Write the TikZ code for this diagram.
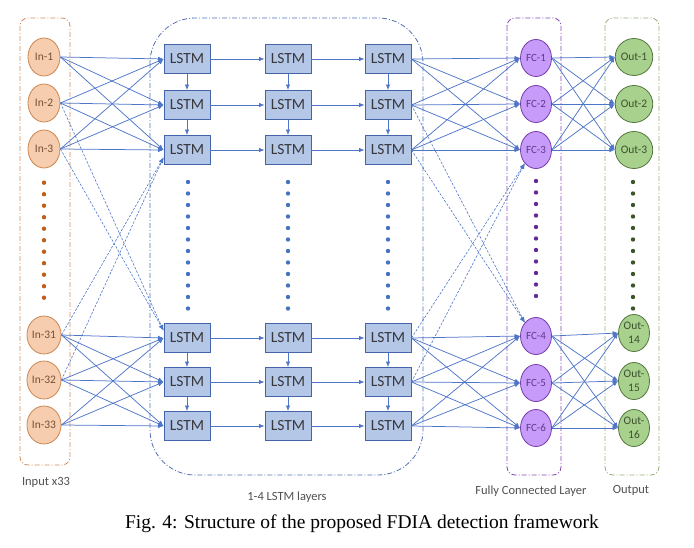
\documentclass[tikz,border=0pt]{standalone}
\usepackage{fontspec}
\setmainfont{Liberation Serif}
\newfontfamily\calfont{Carlito}
\usetikzlibrary{arrows.meta,shapes.geometric,calc}
\definecolor{inF}{RGB}{246,205,175}
\definecolor{inB}{RGB}{205,135,80}
\definecolor{inT}{RGB}{120,80,55}
\definecolor{lsF}{RGB}{180,199,231}
\definecolor{lsB}{RGB}{68,100,170}
\definecolor{lsT}{RGB}{55,55,60}
\definecolor{fcF}{RGB}{198,155,250}
\definecolor{fcB}{RGB}{120,60,170}
\definecolor{fcT}{RGB}{100,55,140}
\definecolor{ouF}{RGB}{169,209,142}
\definecolor{ouB}{RGB}{84,120,60}
\definecolor{ouT}{RGB}{60,80,45}
\definecolor{arrC}{RGB}{78,118,200}
\definecolor{dotO}{RGB}{190,95,30}
\definecolor{dotB}{RGB}{68,114,196}
\definecolor{dotP}{RGB}{102,40,150}
\definecolor{dotG}{RGB}{60,85,40}
\definecolor{grpO}{RGB}{210,140,90}
\definecolor{grpB}{RGB}{80,110,180}
\definecolor{grpP}{RGB}{130,70,180}
\definecolor{grpG}{RGB}{150,175,120}
\definecolor{lblT}{RGB}{80,80,80}
\begin{document}
\begin{tikzpicture}[x=1pt,y=-1pt,
  innode/.style={ellipse,draw=inB,fill=inF,line width=0.8pt,minimum width=32pt,minimum height=38pt,inner sep=0pt,text=inT,font=\calfont\fontsize{11.5}{12}\selectfont},
  lstmbox/.style={rectangle,draw=lsB,fill=lsF,line width=0.9pt,minimum width=46pt,minimum height=29pt,inner sep=0pt,text=lsT,font=\calfont\fontsize{15.5}{16}\selectfont},
  fcnode/.style={ellipse,draw=fcB,fill=fcF,line width=0.8pt,minimum width=31pt,minimum height=37pt,inner sep=0pt,text=fcT,font=\calfont\fontsize{11}{12}\selectfont},
  outnode/.style={ellipse,draw=ouB,fill=ouF,line width=0.8pt,minimum width=31pt,minimum height=37pt,inner sep=0pt,text=ouT,align=center,font=\calfont\fontsize{11.5}{14.5}\selectfont},
  conn/.style={draw=arrC,line width=0.75pt,-{Latex[length=5.5pt,width=4.5pt]}},
  dconn/.style={conn,line width=0.6pt,dash pattern=on 2.5pt off 1.5pt},
  dotst/.style={circle,inner sep=0pt,minimum size=4.4pt},
  grp/.style={line width=0.8pt,dash pattern=on 5pt off 2pt on 1pt off 2pt,rounded corners=8pt},
  lbl/.style={text=lblT,font=\calfont\fontsize{12.5}{14}\selectfont}
]
\useasboundingbox (0,0) rectangle (694,548);
% group boxes
\draw[grp,draw=grpO] (20,18) rectangle (70,465);
\draw[grp,draw=grpB,rounded corners=45pt] (150,18) rectangle (423,475);
\draw[grp,draw=grpP] (507,18) rectangle (561,475);
\draw[grp,draw=grpG] (605,18) rectangle (659,475);
% input nodes
\node[innode] (i1) at (44,57) {In-1};
\node[innode] (i2) at (44,103) {In-2};
\node[innode] (i3) at (44,149) {In-3};
\node[innode] (i31) at (44,335) {In-31};
\node[innode] (i32) at (44,380) {In-32};
\node[innode] (i33) at (44,425) {In-33};
% lstm nodes
\foreach \r/\y in {1/59,2/105,3/150,4/338,5/382,6/426}
  \foreach \c/\x in {1/187,2/288,3/388}
    \node[lstmbox] (L\r\c) at (\x,\y) {LSTM};
% fc nodes
\foreach \f/\y in {1/58,2/104,3/150,4/336,5/383,6/428}
  \node[fcnode] (F\f) at (536,\y) {FC-\f};
% output nodes
\node[outnode] (O1) at (634,57) {Out-1};
\node[outnode] (O2) at (634,104) {Out-2};
\node[outnode] (O3) at (634,150) {Out-3};
\node[outnode] (O4) at (634,333) {Out-\\14};
\node[outnode] (O5) at (634,381) {Out-\\15};
\node[outnode] (O6) at (634,428) {Out-\\16};
% dots
\foreach \k in {0,...,10} \node[dotst,fill=dotO] (dO\k) at (44,182.7+11.5*\k) {};
\foreach \k in {0,...,11} {
  \node[dotst,fill=dotB] (dB1\k) at (188,182+11.5*\k) {};
  \node[dotst,fill=dotB] (dB2\k) at (288,182+11.5*\k) {};
  \node[dotst,fill=dotB] (dB3\k) at (388,182+11.5*\k) {};
  \node[dotst,fill=dotG] (dG\k) at (633,182+11.5*\k) {};
}
\foreach \k in {0,...,10} \node[dotst,fill=dotP] (dP\k) at (536,181+11.5*\k) {};
% input -> lstm
\foreach \a in {i1,i2,i3} \foreach \r in {1,2,3} \draw[conn] (\a.east) -- (L\r1.west);
\foreach \a in {i31,i32,i33} \foreach \r in {4,5,6} \draw[conn] (\a.east) -- (L\r1.west);
\coordinate (t41) at ($(L41.west)!0.5!(L41.north west)$);
\coordinate (t31) at ($(L31.west)!0.5!(L31.south west)$);
\draw[dconn] (i2.east) -- (t41);
\draw[dconn] (i3.east) -- (t41);
\draw[dconn] (i31.east) -- (t31);
\draw[dconn] (i32.east) -- (t31);
% lstm horizontal and vertical
\foreach \r in {1,...,6} {
  \draw[conn] (L\r1) -- (L\r2);
  \draw[conn] (L\r2) -- (L\r3);
}
\foreach \c in {1,2,3} {
  \draw[conn] (L1\c) -- (L2\c);
  \draw[conn] (L2\c) -- (L3\c);
  \draw[conn] (L4\c) -- (L5\c);
  \draw[conn] (L5\c) -- (L6\c);
}
% lstm -> fc
\foreach \r in {1,2,3} \foreach \f in {1,2,3} \draw[conn] (L\r3.east) -- (F\f.west);
\foreach \r in {4,5,6} \foreach \f in {4,5,6} \draw[conn] (L\r3.east) -- (F\f.west);
\draw[dconn] (L23.east) -- (F4.north west);
\draw[dconn] (L33.east) -- (F4.north west);
\draw[dconn] (L43.east) -- (F3.south west);
\draw[dconn] (L53.east) -- (F3.south west);
% fc -> out
\foreach \f in {1,2,3} \foreach \o in {1,2,3} \draw[conn] (F\f.east) -- (O\o.west);
\foreach \f in {4,5,6} \foreach \o in {4,5,6} \draw[conn] (F\f.east) -- (O\o.west);
% labels
\node[lbl] (lin) at (46,482) {Input x33};
\node[lbl] (lls) at (287,497) {1-4 LSTM layers};
\node[lbl] (lfc) at (531,491) {Fully Connected Layer};
\node[lbl] (lou) at (631,490) {Output};
\node[font=\fontsize{19.5}{21}\selectfont] (cap) at (362,524) {Fig. 4: Structure of the proposed FDIA detection framework};
\end{tikzpicture}
\end{document}
